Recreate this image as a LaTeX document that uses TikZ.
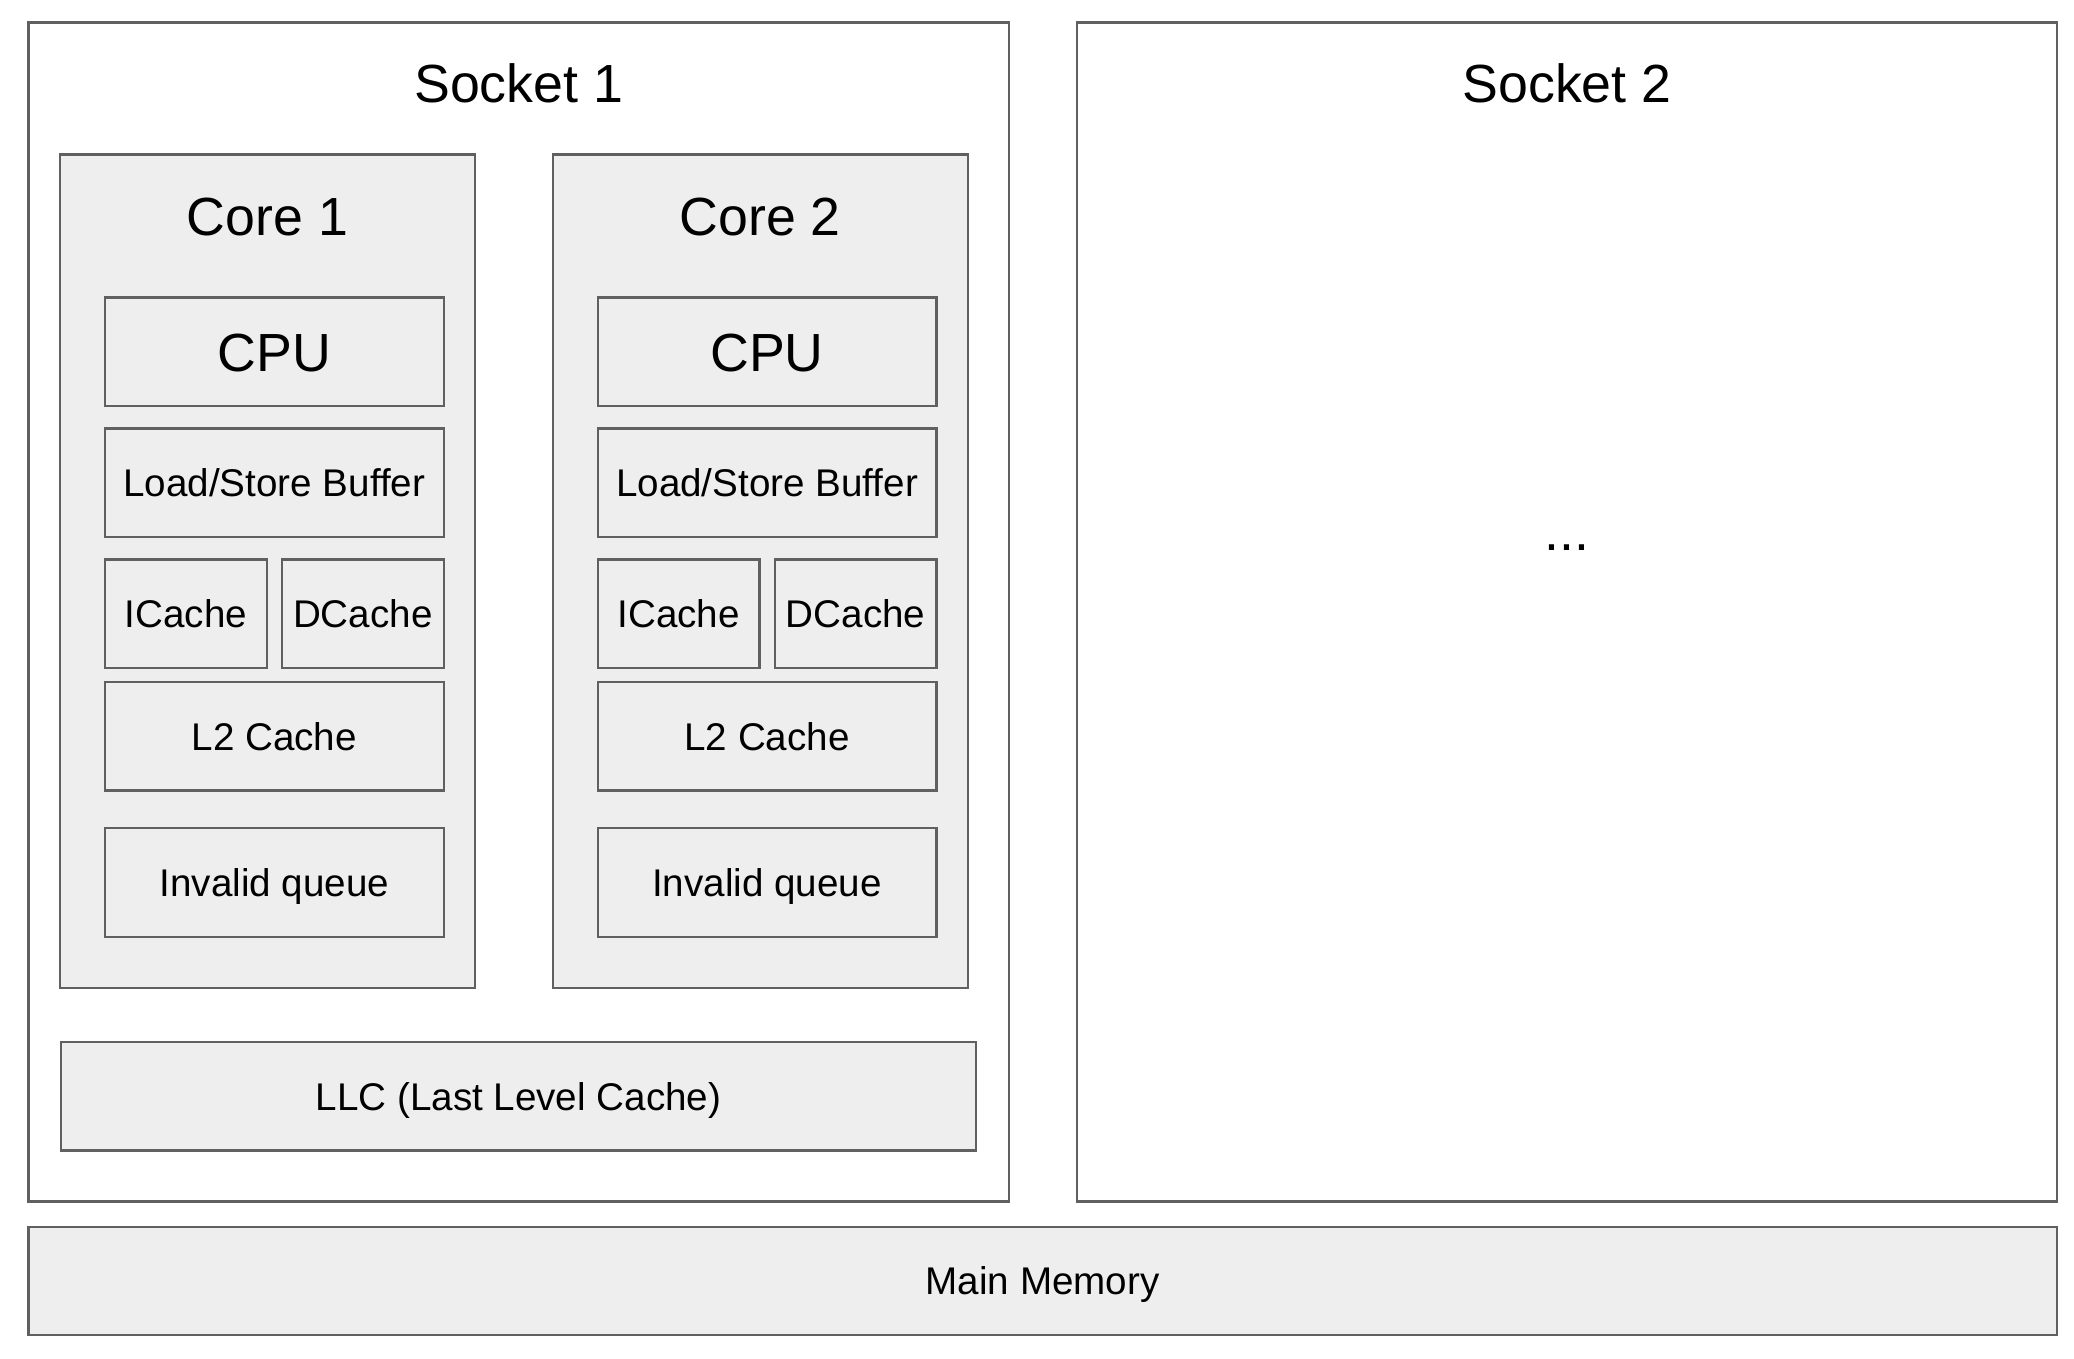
\documentclass[tikz,border=0pt]{standalone}
\usepackage{fontspec}
\setmainfont{Liberation Sans}
\usetikzlibrary{positioning}

\definecolor{edgegray}{HTML}{606060}
\definecolor{fillgray}{HTML}{EEEEEE}
\newcommand{\bigtext}{\fontsize{53.7pt}{64pt}\selectfont}
\newcommand{\smalltext}{\fontsize{38.6pt}{46pt}\selectfont}

\tikzset{
  plainbox/.style={rectangle, draw=edgegray, line width=2.2pt, inner sep=0pt, outer sep=0pt},
  socketbox/.style={plainbox, fill=white, minimum width=980.5pt, minimum height=1179pt},
  corebox/.style={plainbox, fill=fillgray, minimum width=415pt, minimum height=833.8pt},
  unitbox/.style={plainbox, fill=fillgray, minimum width=338.7pt, minimum height=108.5pt, font=\smalltext, text height=27.8pt, text depth=0pt},
  bigunit/.style={unitbox, font=\bigtext, text height=38.7pt},
  halfbox/.style={unitbox, minimum width=161.7pt},
  titletext/.style={inner sep=0pt, font=\bigtext, text height=38.7pt, text depth=0pt},
}

\begin{document}
\begin{tikzpicture}[x=1pt, y=1pt]
\useasboundingbox (0,0) rectangle (2074,-1358);
\node[socketbox, anchor=north west] (socket1) at (28.5,-22.5) {};
\node[socketbox, right=67.7pt of socket1] (socket2) {};
\node[titletext, below=60.8pt of socket1.north, anchor=center] (socket1_title) {Socket 1};
\node[titletext, below=60.8pt of socket2.north, anchor=center] (socket2_title) {Socket 2};
\node[titletext, below=527.5pt of socket2.north, anchor=base] (more_sockets) {...};

% core 1
\node[corebox, below right=132pt and 31.5pt of socket1.north west] (core1) {};
\node[titletext, below=61.5pt of core1.north, anchor=center] (core1_title) {Core 1};
\node[bigunit, below right=143pt and 45pt of core1.north west] (cpu1) {CPU};
\node[unitbox, below=22.5pt of cpu1] (lsb1) {Load/Store Buffer};
\node[halfbox, below right=22.5pt and 0pt of lsb1.south west] (icache1) {ICache};
\node[halfbox, right=15.3pt of icache1] (dcache1) {DCache};
\node[unitbox, below right=14pt and 0pt of icache1.south west] (l2_1) {L2 Cache};
\node[unitbox, below=37.8pt of l2_1] (invq1) {Invalid queue};

% core 2
\node[corebox, right=77.7pt of core1] (core2) {};
\node[titletext, below=61.5pt of core2.north, anchor=center] (core2_title) {Core 2};
\node[bigunit, below right=143pt and 45pt of core2.north west] (cpu2) {CPU};
\node[unitbox, below=22.5pt of cpu2] (lsb2) {Load/Store Buffer};
\node[halfbox, below right=22.5pt and 0pt of lsb2.south west] (icache2) {ICache};
\node[halfbox, right=15.3pt of icache2] (dcache2) {DCache};
\node[unitbox, below right=14pt and 0pt of icache2.south west] (l2_2) {L2 Cache};
\node[unitbox, below=37.8pt of l2_2] (invq2) {Invalid queue};

\node[unitbox, minimum width=914.4pt, below right=1019.5pt and 32.8pt of socket1.north west] (llc) {LLC (Last Level Cache)};
\node[unitbox, minimum width=2028.2pt, minimum height=108.3pt, below right=25.2pt and 0pt of socket1.south west] (memory) {Main Memory};
\end{tikzpicture}
\end{document}
